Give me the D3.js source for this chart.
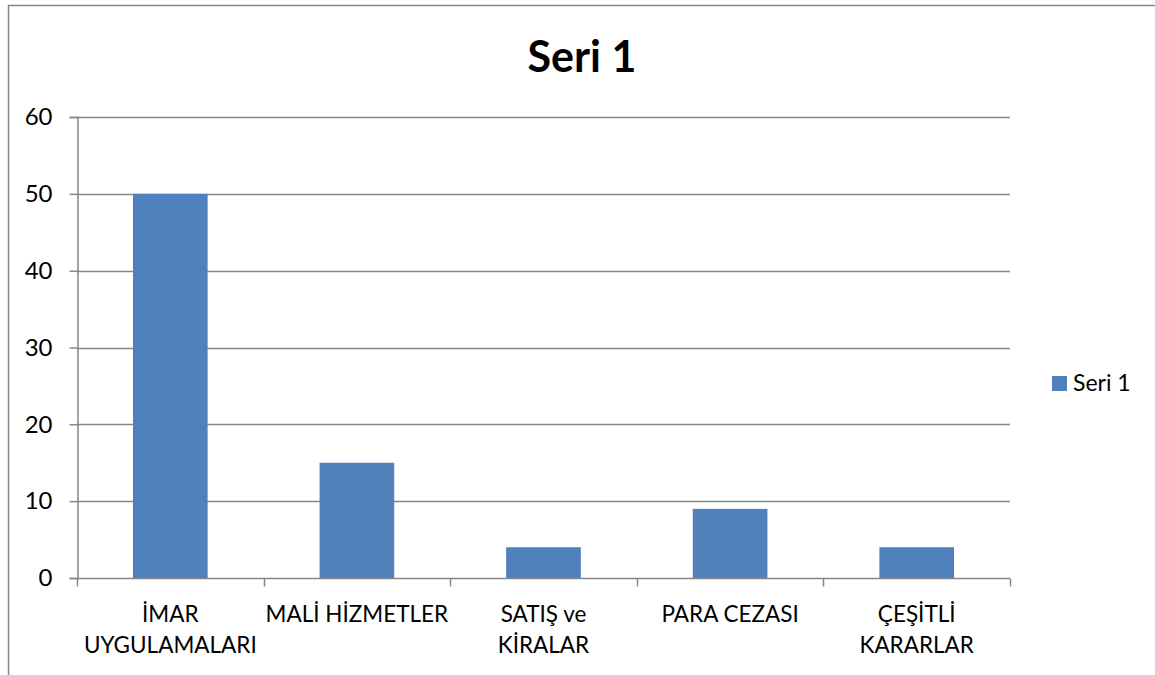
<!DOCTYPE html>
<html>
<head>
<meta charset="utf-8">
<script src="https://cdn.jsdelivr.net/npm/d3@7"></script>
<style>
  body { margin: 0; background: #fff; }
  svg { display: block; font-family: Lato, "Open Sans", sans-serif; }
</style>
</head>
<body>
<div id="chart"></div>
<script>
// kategoriler ve degerler
const categories = ["İMAR UYGULAMALARI", "MALİ HİZMETLER", "SATIŞ ve KİRALAR", "PARA CEZASI", "ÇEŞİTLİ KARARLAR"];
const categoryLines = [["İMAR", "UYGULAMALARI"], ["MALİ HİZMETLER"], ["SATIŞ ve", "KİRALAR"], ["PARA CEZASI"], ["ÇEŞİTLİ", "KARARLAR"]];
const seriesName = "Seri 1";
const values = [50, 15, 4, 9, 4];
const yTicks = [0, 10, 20, 30, 40, 50, 60];

const width = 1155, height = 675;
const plotLeft = 77, plotRight = 1010, plotTop = 117, plotBottom = 578;
const gray = "#868686", blue = "#4F81BD";

const svg = d3.select('#chart')
  .append('svg')
  .attr('width', width)
  .attr('height', height);

// cadre
svg.append('path')
  .attr('d', `M8.5,${height} L8.5,5.5 L${width},5.5`)
  .attr('fill', 'none')
  .attr('stroke', gray)
  .attr('stroke-width', 1.5);

const x = d3.scaleBand().domain(categories).range([plotLeft, plotRight]).padding(0);
const y = d3.scaleLinear().domain([0, 60]).range([plotBottom, plotTop]);

// grille horizontale
svg.append('g')
  .selectAll('line')
  .data(yTicks.filter(d => d > 0))
  .enter()
  .append('line')
  .attr('x1', plotLeft).attr('x2', plotRight)
  .attr('y1', d => Math.round(y(d)) + 0.5)
  .attr('y2', d => Math.round(y(d)) + 0.5)
  .attr('stroke', gray)
  .attr('stroke-width', 1.5);

// axe y
const yAxis = svg.append('g')
  .attr('transform', `translate(${plotLeft + 0.5},0)`)
  .call(d3.axisLeft(y).tickValues(yTicks).tickSize(8).tickPadding(17));
yAxis.select('.domain').attr('stroke', gray).attr('stroke-width', 1.5);
yAxis.selectAll('.tick line').attr('stroke', gray).attr('stroke-width', 1.5);
yAxis.selectAll('.tick text')
  .attr('fill', '#000')
  .style('font-size', '24px')
  .style('font-family', 'Lato, sans-serif');

// barres
svg.append('g')
  .selectAll('rect')
  .data(values)
  .enter()
  .append('rect')
  .attr('x', (d, i) => x(categories[i]) + x.bandwidth() * 0.3)
  .attr('width', x.bandwidth() * 0.4)
  .attr('y', d => y(d))
  .attr('height', d => y(0) - y(d))
  .attr('fill', blue);

// axe x
const xAxis = svg.append('g').attr('transform', `translate(0,${Math.round(plotBottom) + 0.5})`);
xAxis.append('line')
  .attr('x1', plotLeft).attr('x2', plotRight)
  .attr('stroke', gray).attr('stroke-width', 1.5);
xAxis.selectAll('.tk')
  .data(categories.map(c => x(c)).concat([plotRight]))
  .enter()
  .append('line')
  .attr('class', 'tk')
  .attr('x1', d => Math.round(d) + 0.5).attr('x2', d => Math.round(d) + 0.5)
  .attr('y1', 0).attr('y2', 8)
  .attr('stroke', gray).attr('stroke-width', 1.5);

const labels = svg.append('g')
  .selectAll('text')
  .data(categories)
  .enter()
  .append('text')
  .attr('text-anchor', 'middle')
  .attr('fill', '#000')
  .style('font-size', '22.5px');
labels.each(function (c, i) {
  const t = d3.select(this);
  categoryLines[i].forEach((line, k) => {
    t.append('tspan')
      .attr('x', x(c) + x.bandwidth() / 2)
      .attr('y', 622 + k * 31)
      .text(line);
  });
});

// titre
svg.append('text')
  .attr('x', 582)
  .attr('y', 72)
  .attr('text-anchor', 'middle')
  .style('font-size', '43px')
  .style('font-weight', 'bold')
  .text(seriesName);

// legende
svg.append('rect')
  .attr('x', 1052).attr('y', 376)
  .attr('width', 15).attr('height', 15)
  .attr('fill', blue);
svg.append('text')
  .attr('x', 1073).attr('y', 391)
  .style('font-size', '23px')
  .text(seriesName);
</script>
</body>
</html>
